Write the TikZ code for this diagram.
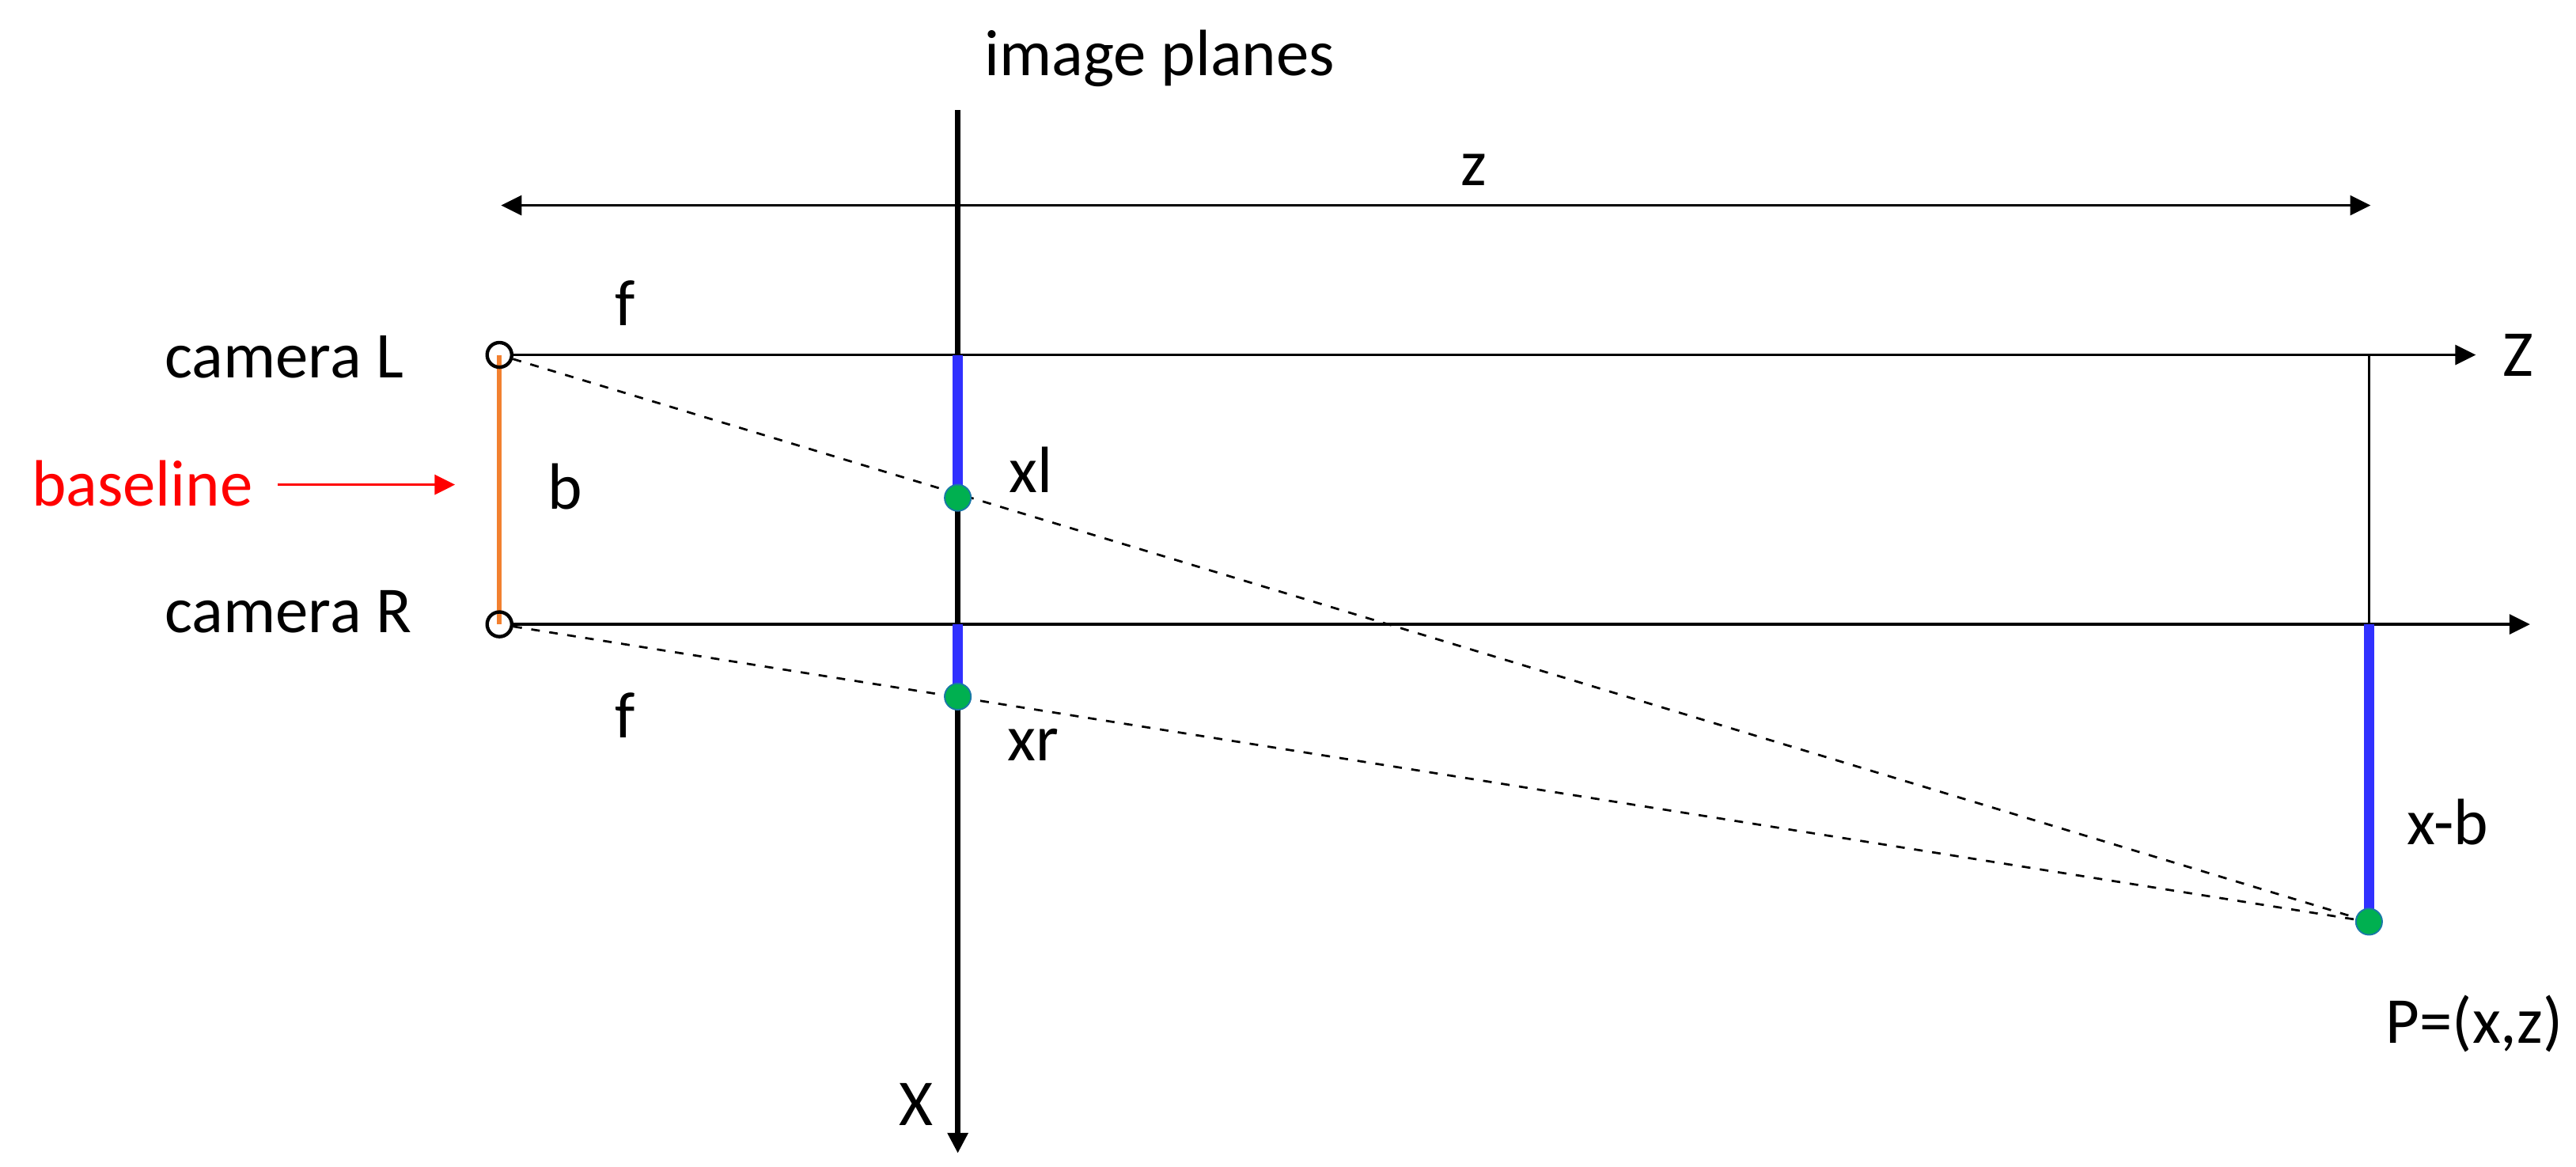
\documentclass[tikz,border=0pt]{standalone}
\usepackage{fontspec}
\setmainfont{Carlito}
\usetikzlibrary{arrows.meta}
\definecolor{barblue}{HTML}{3030FF}
\definecolor{dotgreen}{HTML}{00B050}
\definecolor{dotedge}{HTML}{1A78A8}
\definecolor{baseorange}{HTML}{F28030}
\definecolor{basered}{HTML}{FF0000}
\begin{document}
\begin{tikzpicture}[x=0.02cm,y=-0.02cm,
  lbl/.style={font=\fontsize{22.7}{27}\selectfont, inner sep=0pt, anchor=base west},
  cam/.style={circle, draw=black, line width=1.2pt, minimum size=0.3cm, inner sep=0pt},
  gdot/.style={circle, fill=dotgreen, draw=dotedge, line width=0.5pt, minimum size=0.32cm, inner sep=0pt},
  thinline/.style={line width=0.9pt, black},
  axisline/.style={line width=2pt, black},
  bluebar/.style={line width=3.6pt, barblue},
  rayline/.style={line width=0.75pt, black, dash pattern=on 3pt off 3.3pt},
  tri/.style={-{Triangle[length=0.25cm,width=0.24cm]}},
  bitri/.style={{Triangle[length=0.25cm,width=0.24cm]}-{Triangle[length=0.25cm,width=0.24cm]}}
]
\useasboundingbox (0,0) rectangle (1568,710);

% coordinates
\coordinate (cL) at (304,216);
\coordinate (cR) at (304,380);
\coordinate (Xtop) at (583,67);
\coordinate (Xbot) at (583,702);
\coordinate (IL) at (583,216);
\coordinate (IR) at (583,380);
\coordinate (Zend) at (1507,216);
\coordinate (Rend) at (1540,380);
\coordinate (Ptop) at (1442,216);
\coordinate (Pmid) at (1442,380);
\coordinate (zL) at (305,125);
\coordinate (zR) at (1443,125);
\coordinate (blS) at (169,295);
\coordinate (blE) at (277,295);
\coordinate (xlc) at (583,303);
\coordinate (xrc) at (583,424);
\coordinate (Pc) at (1442,561);

% baseline (orange) under the camera circles
\draw[line width=1.6pt, baseorange] (cL) -- (cR);
\node[cam] (camL) at (cL) {};
\node[cam] (camR) at (cR) {};

% image plane axis X
\draw[axisline, -{Triangle[length=0.25cm,width=0.24cm]}] (Xtop) -- (Xbot);

% z distance arrow
\draw[thinline, bitri] (zL) -- (zR);

% optical axes
\draw[thinline, tri] (camL) -- (Zend);
\draw[thinline, tri] (camR) -- (Rend);
\draw[thinline] (Ptop) -- (Pmid);

% blue segments
\draw[bluebar] (IL) -- (xlc);
\draw[bluebar] (IR) -- (xrc);
\draw[bluebar] (Pmid) -- (Pc);

% rays
\draw[rayline] (camL) -- (Pc);
\draw[rayline] (camR) -- (Pc);

% points
\node[gdot] (xl) at (xlc) {};
\node[gdot] (xr) at (xrc) {};
\node[gdot] (P) at (Pc) {};

% baseline arrow
\draw[line width=1pt, basered, -{Triangle[length=0.25cm,width=0.24cm]}] (blS) -- (blE);

% labels
\node[lbl] (tImg) at (599,46) {image planes};
\node[lbl] (tz) at (889,113) {z};
\node[lbl] (tZ) at (1523,229) {Z};
\node[lbl] (tCL) at (100,230) {camera L};
\node[lbl] (tCR) at (100,385) {camera R};
\node[lbl, text=basered] (tBase) at (19,308) {baseline};
\node[lbl] (tb) at (333,310) {b};
\node[lbl] (tf1) at (374,198) {f};
\node[lbl] (tf2) at (374,449) {f};
\node[lbl] (txl) at (614,300) {xl};
\node[lbl] (txr) at (613,463) {xr};
\node[lbl] (txb) at (1465,514) {x-b};
\node[lbl] (tP) at (1452,635) {P=(x,z)};
\node[lbl] (tX) at (547,685) {X};
\end{tikzpicture}
\end{document}
